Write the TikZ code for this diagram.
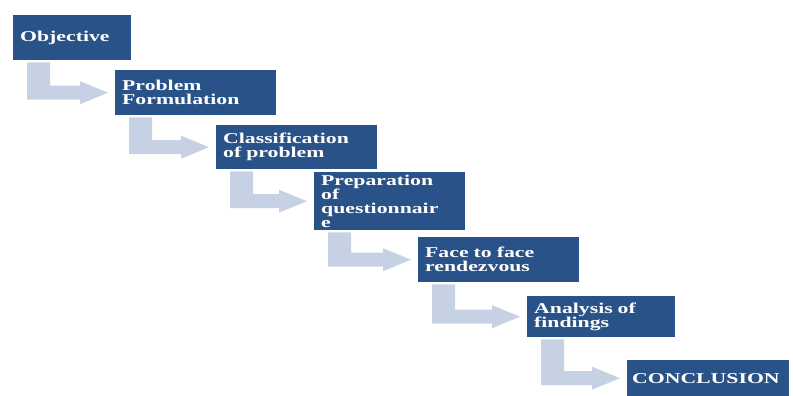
\documentclass[tikz,border=0pt]{standalone}
\usepackage{fontspec}
\usepackage{tikz}
\usetikzlibrary{calc}

\newfontfamily\stepfont[FakeStretch=1.45]{Liberation Serif}
\definecolor{stepblue}{RGB}{41,83,136}
\definecolor{bendgray}{RGB}{198,210,228}

% L-shaped arrow from the lower left of one box to the left side of the next
\newcommand\bentarrow[2]{%
  \fill[bendgray] let \p1=(#1.south west), \p2=(#2.west) in
    (\x1+14pt,\y1-2pt) -- (\x1+37pt,\y1-2pt) -- (\x1+37pt,\y2+7pt)
    -- (\x2-35pt,\y2+7pt) -- (\x2-35pt,\y2+11.5pt) -- (\x2-7pt,\y2)
    -- (\x2-35pt,\y2-11.5pt) -- (\x2-35pt,\y2-7pt) -- (\x1+14pt,\y2-7pt) -- cycle;}

\begin{document}
\begin{tikzpicture}[x=1pt,y=-1pt,
    stepbox/.style={fill=stepblue, text=white, anchor=north west, align=left,
      inner xsep=7pt, inner ysep=0pt,
      font=\stepfont\bfseries\fontsize{15}{14}\selectfont}]
          \useasboundingbox (0,0) rectangle (793,396);

          \node[stepbox,text width=104pt,minimum height=45pt] (objective) at (13,15) {Objective};
          \node[stepbox,text width=147pt,minimum height=45pt] (formulation) at (115,70) {Problem\\Formulation};
          \node[stepbox,text width=147pt,minimum height=44pt] (classification) at (216,125) {Classification\\of problem};
          \node[stepbox,text width=137pt,minimum height=58pt] (preparation) at (314,172) {Preparation\\of\\questionnair\\e};
          \node[stepbox,text width=147pt,minimum height=45pt] (rendezvous) at (418,237) {Face to face\\rendezvous};
          \node[stepbox,text width=134pt,minimum height=41pt] (analysis) at (527,296) {Analysis of\\findings};
          \node[stepbox,text width=152pt,minimum height=36pt,inner xsep=5pt] (conclusion) at (627,360) {CONCLUSION};

          \bentarrow{objective}{formulation}
          \bentarrow{formulation}{classification}
          \bentarrow{classification}{preparation}
          \bentarrow{preparation}{rendezvous}
          \bentarrow{rendezvous}{analysis}
          \bentarrow{analysis}{conclusion}
        \end{tikzpicture}
\end{document}
